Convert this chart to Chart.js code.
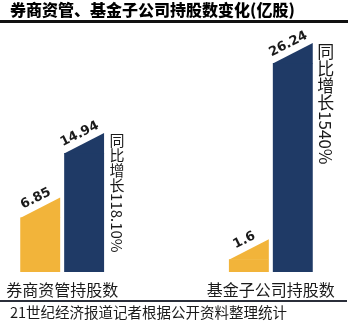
<!DOCTYPE html>
<html>
<head>
<meta charset="utf-8">
<script src="https://cdn.jsdelivr.net/npm/chart.js@4/dist/chart.umd.min.js"></script>
<style>
  html, body { margin: 0; padding: 0; background: #fff; }
  #wrap { width: 350px; height: 322px; }
</style>
</head>
<body>
<div id="wrap"><canvas id="holdingChart" width="350" height="322"></canvas></div>
<script>
// 券商资管、基金子公司持股数变化（亿股）
// middle category is empty, only used to space the two groups apart
var categories = ['券商资管持股数', '', '基金子公司持股数'];
var lastYear = [6.85, null, 1.6];
var thisYear = [14.94, null, 26.24];
var growthText = ['同比增长118.10%', null, '同比增长1540%'];

var titleText = '券商资管、基金子公司持股数变化(亿股)';
var sourceText = '21世纪经济报道记者根据公开资料整理统计';

var YELLOW = '#F2B43A';
var NAVY = '#1F3A66';
var TEXT = '#1a1a1a';
var CJK = '"Noto Sans CJK SC", "Noto Sans", sans-serif';
var SLANT = 20; // how much higher the right edge of each bar top is

// bar tops are cut on a slope, value written along the slope
var slantTops = {
    id: 'slantTops',
    afterDatasetsDraw: function (chart) {
        var ctx = chart.ctx;
        chart.data.datasets.forEach(function (ds, di) {
            var meta = chart.getDatasetMeta(di);
            meta.data.forEach(function (bar, i) {
                if (ds.data[i] == null) return;
                var p = bar.getProps(['x', 'y', 'width'], true);
                var l = p.x - p.width / 2, r = p.x + p.width / 2;

                ctx.save();
                ctx.fillStyle = ds.backgroundColor;
                ctx.beginPath();
                ctx.moveTo(l, p.y + 0.5);
                ctx.lineTo(r, p.y - SLANT);
                ctx.lineTo(r, p.y + 0.5);
                ctx.closePath();
                ctx.fill();

                // value label
                var ang = Math.atan2(-SLANT, p.width);
                var d = 10;
                var cx = p.x + Math.sin(ang) * d;
                var cy = p.y - SLANT / 2 - Math.cos(ang) * d;
                ctx.translate(cx, cy);
                ctx.rotate(ang);
                ctx.font = 'bold 13px "DejaVu Sans", sans-serif';
                ctx.fillStyle = TEXT;
                ctx.textAlign = 'center';
                ctx.textBaseline = 'middle';
                ctx.fillText(String(ds.data[i]), 0, 0);
                ctx.restore();
            });
        });
    }
};

// vertical growth notes, category names and the rules
var decorations = {
    id: 'decorations',
    afterDraw: function (chart) {
        var ctx = chart.ctx;
        var xScale = chart.scales.x;
        var navyMeta = chart.getDatasetMeta(1);

        ctx.save();
        // rule under the title
        ctx.fillStyle = '#111';
        ctx.fillRect(0, 20, 348, 3);
        // rule above the source
        ctx.fillStyle = '#2b2f3a';
        ctx.fillRect(0, 300, 347, 2);

        categories.forEach(function (name, i) {
            if (!name) return;
            // category name under the group
            ctx.font = '16px ' + CJK;
            ctx.fillStyle = TEXT;
            ctx.textAlign = 'center';
            ctx.textBaseline = 'middle';
            ctx.fillText(name, xScale.getPixelForValue(i), 290);

            // vertical note beside the navy bar
            var note = growthText[i];
            if (!note) return;
            var bar = navyMeta.data[i].getProps(['x', 'y', 'width'], true);
            var size = i === 0 ? 15 : 17;
            var nx = bar.x + bar.width / 2 + 13;
            var ny = bar.y - SLANT;
            ctx.font = size + 'px ' + CJK;
            var k = 0;
            while (k < note.length && /[\u4e00-\u9fff]/.test(note[k])) {
                ctx.textAlign = 'center';
                ctx.textBaseline = 'middle';
                ctx.fillText(note[k], nx, ny + size / 2);
                ny += size;
                k++;
            }
            ctx.save();
            ctx.translate(nx, ny);
            ctx.rotate(Math.PI / 2);
            ctx.textAlign = 'left';
            ctx.textBaseline = 'middle';
            ctx.fillText(note.slice(k), 0, 0);
            ctx.restore();
        });
        ctx.restore();
    }
};

var ctx = document.getElementById('holdingChart');
var chart = new Chart(ctx, {
    type: 'bar',
    data: {
        labels: categories,
        datasets: [
            { label: '去年', data: lastYear, backgroundColor: YELLOW },
            { label: '今年', data: thisYear, backgroundColor: NAVY }
        ]
    },
    options: {
        responsive: false,
        animation: false,
        events: [],
        layout: { padding: { left: 10, right: 27, top: 0, bottom: 0 } },
        datasets: {
            bar: { categoryPercentage: 0.842, barPercentage: 0.909, borderWidth: 0 }
        },
        scales: {
            x: { display: false },
            y: { display: false, min: 0, max: 30.4 }
        },
        plugins: {
            legend: { display: false },
            tooltip: { enabled: false },
            title: {
                display: true,
                text: titleText,
                align: 'start',
                color: '#000',
                font: { family: CJK, size: 16, weight: '900' },
                padding: { top: 0.4, bottom: 10.4 }
            },
            subtitle: {
                display: true,
                position: 'bottom',
                text: sourceText,
                align: 'start',
                color: TEXT,
                font: { family: CJK, size: 14.5, weight: 'normal' },
                padding: { top: 31.3, bottom: 1.3 }
            }
        }
    },
    plugins: [slantTops, decorations]
});
</script>
</body>
</html>
